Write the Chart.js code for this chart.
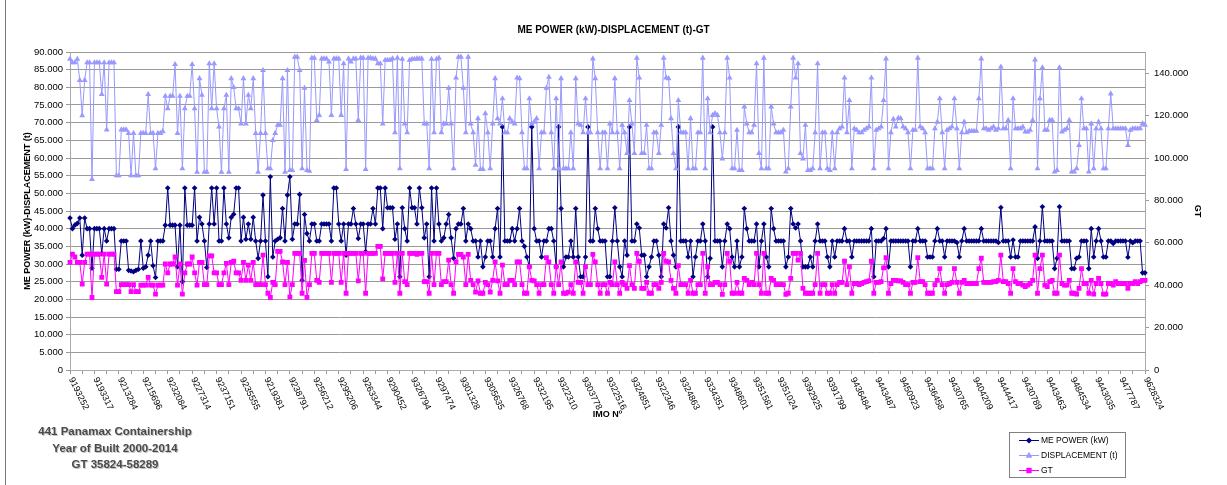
<!DOCTYPE html>
<html><head><meta charset="utf-8">
<script src="https://cdn.jsdelivr.net/npm/chart.js@4"></script>
<style>
html,body{margin:0;padding:0;background:#fff;}
#wrap{position:relative;width:1227px;height:485px;overflow:hidden;}
canvas{display:block;}
#note{position:absolute;left:15px;top:423px;width:200px;text-align:center;font:bold 11.5px "Liberation Sans",Arial,sans-serif;color:#4a4a4a;line-height:16.7px;text-shadow:1px 1px 0 #c4c4c4;}
</style></head><body>
<div id="wrap"><canvas id="c" width="1227" height="485"></canvas>
<div id="note">441 Panamax Containership<br>Year of Built 2000-2014<br>GT 35824-58289</div></div>
<script>
const tickLabels = ['9193252','9193317','9213284','9215696','9232084','9227314','9237151','9235555','9219381','9238791',
'9256212','9295206','9263344','9290452','9326794','9297474','9301328','9305635','9326768','9332195',
'9322310','9303778','9322516','9324851','9322346','9324863','9334351','9348601','9351581','9351024',
'9392925','9391799','9436484','9443487','9450923','9436458','9430765','9404209','9444417','9430789',
'9443463','9484534','9443035','9477787','9628324'];

const rightTicks = [0, 20000, 40000, 60000, 80000, 100000, 120000, 140000];

const mePower = [
43000,40000,41000,41500,43000,32500,43000,40000,40000,28800,
40000,40000,40000,33000,40000,36500,40000,40000,40000,28500,
28500,36500,36500,36500,28200,28000,27800,28200,28500,36500,
28800,29200,32500,36500,29500,26200,36500,36500,36500,41000,
51500,41000,41000,41000,29200,41000,25000,51500,41000,41000,
41000,51500,36500,43200,41300,36500,29000,41300,51500,41300,
51500,36500,36500,51500,41300,37400,43200,44100,51500,51500,
36500,43200,37000,41300,37000,43200,36500,31600,36500,49500,
36500,26400,54700,32000,36500,37000,37400,45700,36500,49500,
54700,37000,41300,41300,49700,25400,44000,38600,36500,41300,
41300,36500,36500,41300,41300,41300,41300,36500,51500,51500,
41300,36500,41300,32500,41300,41300,45700,41300,37200,41300,
41300,33500,41300,41300,45700,41300,51500,51500,40000,51500,
45900,45900,45900,37000,41300,26400,45900,40000,36500,51500,
45900,45900,41300,51500,45900,37400,41300,26400,51500,36500,
51500,41300,36500,37400,41300,44000,37400,31600,40000,41300,
41300,45700,36500,41300,40000,36500,36500,32000,36500,29200,
32000,36500,36500,32000,40000,45700,32000,68800,36500,36500,
36500,40000,36500,40000,45700,36500,35000,32000,29200,68800,
40000,36500,36500,32000,36500,36500,40000,40000,36500,29200,
68800,45700,29200,32000,32000,36500,32000,45700,32000,26400,
26400,32000,68800,36500,36500,45700,40000,36500,36500,36500,
26400,26400,36500,45900,36500,29200,26400,36500,32500,68800,
36500,36500,41300,40200,32500,32500,26400,29200,32000,36500,
36500,32500,26400,41300,40200,45900,36500,32500,29200,68800,
36500,36500,36500,32000,36500,26400,32000,36500,36500,41300,
36500,26400,31600,68800,36500,36500,36500,29200,36500,41300,
40000,32000,29200,36500,29200,32000,45700,40000,36500,36500,
36500,41300,29200,36500,41300,32000,29200,45700,40000,36500,
36500,36500,36500,29200,32000,45700,41300,40200,41300,36500,
29200,29200,29200,32000,29200,36500,41300,36500,36500,36500,
32000,29200,36500,32000,36500,36500,36500,40000,36500,36500,
32000,36500,36500,36500,36500,36500,36500,36500,40000,26400,
36500,36500,36500,37200,40000,29200,36500,36500,36500,36500,
36500,36500,36500,36500,29200,36500,36500,40000,36500,36500,
36500,32000,32000,32000,36500,40000,36500,36500,32000,36500,
36500,36500,36500,36100,32000,36500,40000,36500,36500,36500,
36500,36500,36500,40000,36500,36500,36500,36500,36500,36500,
36100,46000,36500,36500,36500,32000,36800,32000,32000,36500,
36500,36500,36500,36500,36500,40500,31600,36500,46200,36500,
36500,36500,36500,28700,31600,46200,36500,36500,36500,36500,
28700,28700,31600,32000,36500,36500,36500,28700,40000,32000,
36500,40000,36500,32000,32000,36500,36500,35800,36500,36500,
36500,36500,36500,31900,36500,36000,36500,36500,36500,27500,
27500];

const displacement = [
88000,87000,87000,88000,82000,72000,82000,87000,87000,54000,
87000,87000,87000,78000,87000,68000,87000,87000,87000,55000,
55000,68000,68000,68000,67000,55000,67000,55000,55000,67000,
67000,67000,78000,67000,67000,57000,67000,67000,67500,77500,
74000,77500,77500,86500,67000,77500,57000,74000,77500,77500,
86500,74000,56000,82500,77800,56000,56000,86700,74000,86700,
74000,68800,56000,74000,77800,56000,82500,80000,74000,74000,
69700,82500,69700,77800,74000,82500,67000,56000,67000,84800,
67000,57000,57000,65000,67000,69300,69300,82500,56000,84800,
56500,56500,88600,88600,84800,57000,79800,56500,56300,88300,
88300,70700,72100,88100,88100,88100,87200,72100,88100,88100,
88100,72100,86700,56800,88100,87200,88100,88100,70700,88300,
88300,56800,88300,88300,88100,88100,86700,86700,69700,87700,
87700,87700,88100,67200,88300,57000,88000,69700,67200,87700,
88000,88000,88100,88100,88100,69700,69700,57000,88000,67200,
88000,88300,67200,69700,69700,79800,69700,57000,82700,88600,
88600,79800,67200,88600,69700,67200,58000,71200,56800,56800,
72600,67200,57000,69700,82500,71200,69700,76800,67200,67200,
71200,70200,69700,82700,82500,67200,57000,57000,76800,69700,
70200,71200,57000,67200,67200,79800,82900,67200,57000,76800,
57000,82500,57000,57000,57000,67200,57000,82500,69700,69300,
67200,76800,67200,67200,88100,82500,67200,57000,67200,67200,
57000,69700,67200,82500,67200,57000,69300,67200,61300,76300,
69700,61300,88300,82700,61300,61300,69300,57000,57000,67200,
67200,61300,69300,88300,82700,82500,71200,61300,57000,76300,
67200,67200,67200,57000,71200,57000,57000,67200,67200,88300,
57000,76800,67200,72100,72600,72100,67200,59800,67200,88300,
82700,57000,57000,67900,56500,56500,74500,69700,67200,67200,
69300,86700,61300,57000,88300,57000,57000,74500,69700,67200,
67200,67200,67900,56100,57000,74500,88300,82700,86700,61300,
59800,69300,56500,56500,57000,67200,86700,57000,67200,67200,
57000,56500,67200,57000,67200,68300,68800,82700,67200,76300,
57000,68300,67900,67200,67200,67900,68300,68800,82700,57000,
67900,68300,68800,76300,88100,57000,67200,71000,68800,71300,
71200,68800,68300,67200,57000,67900,67900,88300,68800,68300,
67200,57000,57000,57000,68300,70200,76800,67200,57000,67900,
68300,68800,76800,68300,57000,67200,70200,67200,67600,67600,
67600,67600,76800,88100,68300,68300,67900,68300,68800,67900,
68300,85800,68300,68300,70700,57000,76800,68300,68300,68300,
68800,67400,67400,67900,70700,87800,57000,76800,85600,67900,
67900,70700,70700,56100,56500,85600,67400,67900,68300,70700,
56100,56100,57000,63600,76800,68300,68300,56100,69700,57000,
68300,70200,68300,57000,57000,68300,78200,68300,68300,68300,
68300,68300,68300,63600,67900,68300,68300,68300,68300,69700,
69300];

const gt = [
50800,54700,53300,50800,50800,40500,50800,54700,54700,34200,
54700,54700,54700,43700,54700,40500,54700,54700,54700,37000,
37000,40300,40300,40300,40300,37000,40300,37000,37000,40000,
40000,40000,43700,40000,40000,35800,40000,40000,40000,50000,
45800,50000,50000,53300,40000,50000,35800,45800,50000,50000,
53300,45800,40000,50700,50700,40300,40300,53800,53800,45800,
45800,40300,40300,45800,50300,40300,50700,51300,45800,45800,
42300,50700,42300,49500,42300,50700,40300,40300,40300,54200,
40300,36200,34200,41300,40300,56000,56000,51000,40300,50700,
34500,40300,55000,55000,55000,36200,51700,34300,40300,55000,
55000,42300,41300,55000,55000,55000,55000,41300,55000,55000,
55000,41300,55000,36200,55000,55000,55000,55000,42000,55000,
55000,36200,55000,55000,55000,55000,58289,58289,43000,55000,
55000,55000,55000,41300,55000,36200,55000,41700,40300,55000,
55000,55000,54500,55000,55000,41700,41700,36200,55000,40300,
55000,55000,40300,41700,41700,51800,40300,36200,51000,54500,
54500,53300,40300,54500,42300,40300,36700,42000,36200,36200,
41300,40300,36700,42300,51000,42000,36200,49500,40300,40300,
42300,42300,40300,51000,51000,40300,36200,36200,48700,42300,
42000,40300,36200,40300,40300,53000,51000,40300,36200,48700,
40300,51000,36200,36200,36700,40300,36200,51000,41300,41300,
36200,48700,40300,40300,54500,51000,40300,36200,40300,40300,
36200,41300,40300,51000,40300,36200,41300,40300,38500,49200,
40300,38500,55000,51300,38500,38500,41300,36200,36200,40300,
40300,38500,41300,55000,51300,51000,42300,38500,36200,49200,
40300,40300,40300,36200,42300,36200,36200,40300,40300,55000,
36200,48700,40300,40300,41300,41300,40300,35700,40300,55000,
51300,36200,36200,41300,36200,36200,43200,42300,40300,41300,
40300,55000,40300,36200,55000,36200,36200,43200,42300,40300,
40300,40300,40300,35700,36200,43200,55000,55000,51800,55000,
38500,36200,36200,36200,36200,40300,55000,36200,40300,40300,
36200,36200,40300,36200,40300,41300,41300,51300,40300,48700,
36200,40800,40800,40300,40800,41300,41700,42000,51300,36200,
41300,41300,41700,48200,53000,36200,40800,42300,42300,42000,
42000,41300,40300,40300,36200,41300,41300,53000,41700,41700,
40300,36200,36200,36200,40300,42300,47800,40300,36200,40300,
40800,41300,47800,41300,36200,41300,42300,40800,40800,40800,
40800,40800,47800,52700,41300,41300,41300,41300,41700,41700,
42300,54200,41700,41700,40800,36200,47800,41700,40800,40800,
40000,39300,40000,40800,42300,54200,36200,47800,54200,40000,
39300,41700,42300,36200,36200,54200,40800,40000,40000,42300,
36200,36200,35800,38500,47800,40800,40800,36200,42300,35800,
40800,43200,40800,35800,35800,40800,40800,40000,41700,40800,
40800,40800,40800,38500,40800,40800,41700,40800,41700,42300,
42300];

const categories = mePower.map((v, i) => (i % 10 === 0 ? (tickLabels[i / 10] || '') : ''));

const FONT = '"Liberation Sans", Arial, sans-serif';

function marker(ctx, style, x, y, r) {
  ctx.beginPath();
  if (style === 'rectRot') {
    ctx.moveTo(x, y - r); ctx.lineTo(x + r, y); ctx.lineTo(x, y + r); ctx.lineTo(x - r, y);
  } else if (style === 'triangle') {
    ctx.moveTo(x, y - r); ctx.lineTo(x + r * 0.9, y + r * 0.6); ctx.lineTo(x - r * 0.9, y + r * 0.6);
  } else {
    const s = r * 0.72; ctx.rect(x - s, y - s, 2 * s, 2 * s);
  }
  ctx.closePath(); ctx.fill();
}

const framePlugin = {
  id: 'frame',
  beforeDraw(chart) {
    const c = chart.ctx; c.save();
    c.fillStyle = '#fff'; c.fillRect(0, 0, chart.width, chart.height);
    c.strokeStyle = '#777'; c.lineWidth = 1;
    c.beginPath(); c.moveTo(5.5, 0); c.lineTo(5.5, chart.height); c.stroke();
    c.restore();
  }
};

const xLabelPlugin = {
  id: 'xLabels',
  afterDraw(chart) {
    const xs = chart.scales.x; const c = chart.ctx;
    c.save();
    c.font = '9px ' + FONT; c.fillStyle = '#000';
    c.textAlign = 'left'; c.textBaseline = 'middle';
    categories.forEach((lab, i) => {
      if (!lab) return;
      const x = xs.getPixelForValue(i);
      c.save(); c.translate(x + 1, xs.top + 8); c.rotate(64 * Math.PI / 180);
      c.fillText(lab, 0, 0); c.restore();
    });
    c.restore();
  }
};

const legendPlugin = {
  id: 'boxLegend',
  afterDraw(chart) {
    const c = chart.ctx; c.save();
    c.strokeStyle = '#808080'; c.lineWidth = 1;
    c.strokeRect(1009.5, 432.5, 116, 45);
    const rows = [440, 455, 470];
    chart.data.datasets.forEach((ds, k) => {
      const y = rows[k];
      c.strokeStyle = ds.borderColor; c.fillStyle = ds.borderColor; c.lineWidth = 1;
      c.beginPath(); c.moveTo(1019, y + 0.5); c.lineTo(1039, y + 0.5); c.stroke();
      marker(c, ds.pointStyle, 1029, y + 0.5, ds.pointRadius + 0.3);
      c.fillStyle = '#000'; c.font = '8.5px ' + FONT; c.textAlign = 'left'; c.textBaseline = 'middle';
      c.fillText(ds.label, 1041, y + 0.5);
    });
    c.restore();
  }
};

const ds = (label, data, color, style, r, axis, order) => ({
  label, data, yAxisID: axis, order,
  borderColor: color, backgroundColor: color,
  pointBackgroundColor: color, pointBorderColor: color,
  pointStyle: style, pointRadius: r, pointBorderWidth: 0, pointHoverRadius: r,
  borderWidth: 1, tension: 0, fill: false
});

new Chart(document.getElementById('c'), {
  type: 'line',
  data: {
    labels: categories,
    datasets: [
      ds('ME POWER (kW)', mePower, '#000080', 'rectRot', 2.8, 'y', 3),
      ds('DISPLACEMENT (t)', displacement, '#9999FF', 'triangle', 3.4, 'y', 2),
      ds('GT', gt, '#FF00FF', 'rect', 3.4, 'y1', 1)
    ]
  },
  options: {
    responsive: false, animation: false, devicePixelRatio: 1,
    layout: { padding: 0 },
    plugins: {
      legend: { display: false }, tooltip: { enabled: false },
      title: { display: true, text: 'ME POWER (kW)-DISPLACEMENT (t)-GT', color: '#000',
        font: { family: FONT, size: 10, weight: 'bold' }, padding: { top: 24, bottom: 16 } }
    },
    scales: {
      x: {
        type: 'category', offset: false,
        ticks: { display: false, autoSkip: false },
        grid: { drawOnChartArea: false, drawTicks: true, tickLength: 4, offset: false,
          color: (c) => (c.index % 5 === 0 ? '#999' : 'rgba(0,0,0,0)') },
        border: { display: true, color: '#aaa' },
        title: { display: true, text: 'IMO Nº', color: '#000', font: { family: FONT, size: 9, weight: 'bold' }, padding: { top: 0, bottom: 65 } },
        afterFit: (s) => { s.height = 115; }
      },
      y: {
        position: 'left', min: 0, max: 90000,
        ticks: { stepSize: 5000, color: '#000', font: { family: FONT, size: 9.5 }, padding: 3,
          callback: (v) => Number(v).toLocaleString('de-DE') },
        grid: { color: '#9a9a9a', tickLength: 4 },
        border: { color: '#aaa' },
        title: { display: true, text: 'ME POWER (kW)-DISPLACEMENT (t)', color: '#000', font: { family: FONT, size: 9, weight: 'bold' }, padding: { top: 22 } },
        afterFit: (s) => { s.width = 70; }
      },
      y1: {
        position: 'right', min: 0, max: 150000,
        afterBuildTicks: (s) => { s.ticks = rightTicks.map((v) => ({ value: v })); },
        ticks: { color: '#000', font: { family: FONT, size: 9.5 }, padding: 5,
          callback: (v) => Number(v).toLocaleString('de-DE') },
        grid: { drawOnChartArea: false, color: '#9a9a9a', tickLength: 4 },
        border: { color: '#aaa' },
        title: { display: true, text: 'GT', color: '#000', font: { family: FONT, size: 9, weight: 'bold' }, padding: { top: 24 } },
        afterFit: (s) => { s.width = 82; }
      }
    }
  },
  plugins: [framePlugin, xLabelPlugin, legendPlugin]
});
</script>
</body></html>
